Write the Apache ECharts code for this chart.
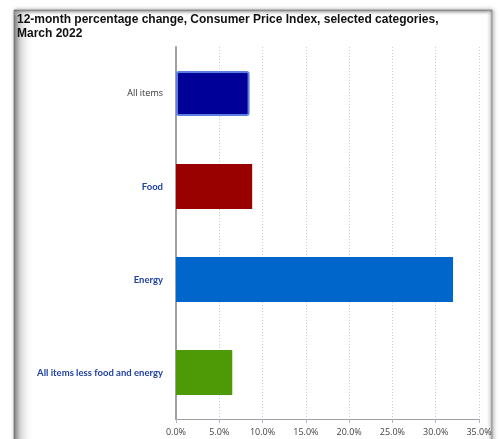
<!DOCTYPE html>
<html><head><meta charset="utf-8">
<script src="https://cdn.jsdelivr.net/npm/echarts@6/dist/echarts.min.js"></script>
<style>html,body{margin:0;padding:0;background:#fff}#c{width:501px;height:439px}</style>
</head><body><div id="c"></div>
<script>
const categories = ['All items', 'Food', 'Energy', 'All items less food and energy'];
const values = [8.5, 8.8, 32.0, 6.5];
const colors = ['#000099', '#990000', '#0066CC', '#4E9A06'];
const xTicks = [0, 5, 10, 15, 20, 25, 30, 35];

const chart = echarts.init(document.getElementById('c'));
chart.setOption({
  animation: false,
  backgroundColor: '#ffffff',
  graphic: [
    { type: 'rect', z: -10, shape: { x: 14, y: 10, width: 478, height: 445 },
      style: { fill: '#ffffff', stroke: '#9a9a9a', lineWidth: 1, shadowBlur: 4, shadowColor: 'rgba(0,0,0,0.3)', shadowOffsetX: 1, shadowOffsetY: 0 } },
    { type: 'rect', z: -9, shape: { x: 14, y: 10, width: 20, height: 445 },
      style: { fill: new echarts.graphic.LinearGradient(0, 0, 1, 0, [
        { offset: 0, color: 'rgba(100,100,100,0.85)' }, { offset: 0.35, color: 'rgba(170,170,170,0.45)' }, { offset: 1, color: 'rgba(255,255,255,0)' }]) } },
    { type: 'rect', z: -9, shape: { x: 14, y: 10, width: 478, height: 6 },
      style: { fill: new echarts.graphic.LinearGradient(0, 0, 0, 1, [
        { offset: 0, color: 'rgba(100,100,100,0.75)' }, { offset: 1, color: 'rgba(255,255,255,0)' }]) } },
    { type: 'rect', z: -9, shape: { x: 486, y: 10, width: 6, height: 445 },
      style: { fill: new echarts.graphic.LinearGradient(0, 0, 1, 0, [
        { offset: 0, color: 'rgba(255,255,255,0)' }, { offset: 1, color: 'rgba(120,120,120,0.55)' }]) } },
    { type: 'text', left: 17, top: 13, style: {
        text: '12-month percentage change, Consumer Price Index, selected categories,\nMarch 2022',
        font: 'bold 12px "Liberation Sans", Arial, sans-serif', fill: '#111', lineHeight: 14 } }
  ],
  grid: { left: 176, right: 22, top: 47, bottom: 20, containLabel: false },
  xAxis: {
    type: 'value', min: 0, max: 35, interval: 5,
    axisLine: { show: true, lineStyle: { color: '#a0a0a0', width: 1 } },
    axisTick: { show: true, length: 4, lineStyle: { color: '#a8b8d0' } },
    axisLabel: { formatter: v => xTicks.includes(v) ? v.toFixed(1) + '%' : '', color: '#444', fontSize: 9, margin: 9, fontFamily: '"Open Sans", "DejaVu Sans", sans-serif' },
    splitLine: { show: true, lineStyle: { color: '#cccccc', type: [1, 2], width: 1 } }
  },
  yAxis: {
    type: 'category', inverse: true, data: categories,
    axisLine: { show: true, lineStyle: { color: '#a0a0a0', width: 2 } },
    axisTick: { show: false },
    axisLabel: { margin: 13,
      formatter: (v, i) => i === 0 ? '{g|' + v + '}' : '{b|' + v + '}',
      rich: {
        g: { color: '#333333', fontSize: 9, fontFamily: '"Open Sans", sans-serif' },
        b: { color: '#2142A0', fontSize: 9.5, fontWeight: 'bold', fontFamily: 'Lato, "Open Sans", sans-serif' }
      }
    }
  },
  series: [{
    type: 'bar', barWidth: 45,
    data: values.map((v, i) => ({ value: v, itemStyle: {
      color: colors[i],
      borderColor: i === 0 ? '#5c7ee0' : 'rgba(0,0,0,0)', borderWidth: i === 0 ? 2 : 0, borderRadius: i === 0 ? 2 : 0 } }))
  }]
});
</script></body></html>
